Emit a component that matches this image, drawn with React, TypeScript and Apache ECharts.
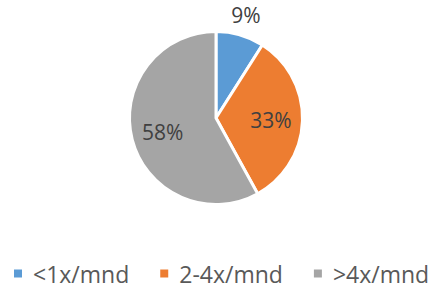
import React, { useEffect, useRef } from "react";
import * as echarts from "echarts";

const categories = ["<1x/mnd", "2-4x/mnd", ">4x/mnd"];
const values = [9, 33, 58];
const colors = ["#5B9BD5", "#ED7D31", "#A5A5A5"];
const outerLabelIdx = [0];
const innerLabelIdx = [1, 2];

export default function App() {
  const ref = useRef<HTMLDivElement>(null);
  useEffect(() => {
    if (!ref.current) return;
    const chart = echarts.init(ref.current, undefined, { renderer: "svg" });
    const font = "'Open Sans', 'Noto Sans', sans-serif";
    const labelStyle = { fontSize: 21, color: "#404040", fontFamily: font };
    const center = [216, 118];
    const overlay = (radius: number[], idx: number[]) => ({
      type: "pie",
      center,
      radius,
      silent: true,
      startAngle: 90,
      clockwise: true,
      avoidLabelOverlap: false,
      itemStyle: { color: "transparent", borderWidth: 0 },
      labelLine: { show: false },
      emphasis: { disabled: true },
      label: { position: "inside", formatter: "{c}%", ...labelStyle },
      data: categories.map((name, i) => ({
        name,
        value: values[i],
        label: { show: idx.includes(i) },
      })),
    });
    chart.setOption({
      animation: false,
      legend: {
        left: 12,
        top: 262,
        width: 430,
        padding: 0,
        icon: "rect",
        itemWidth: 10,
        itemHeight: 10,
        itemGap: 29,
        selectedMode: false,
        textStyle: {
          fontSize: 23,
          color: "#595959",
          fontFamily: font,
          padding: [0, 0, 0, 5],
        },
        data: categories.map((name, i) => ({ name, itemStyle: { color: colors[i] } })),
      },
      series: [
        {
          type: "pie",
          center,
          radius: [0, 86.5],
          startAngle: 90,
          clockwise: true,
          label: { show: false },
          labelLine: { show: false },
          emphasis: { disabled: true },
          itemStyle: { borderColor: "#ffffff", borderWidth: 3 },
          data: categories.map((name, i) => ({
            name,
            value: values[i],
            itemStyle: { color: colors[i] },
          })),
        },
        overlay([86, 122], outerLabelIdx),
        overlay([0, 104], innerLabelIdx),
      ],
    });
    return () => chart.dispose();
  }, []);
  return (
    <div
      ref={ref}
      style={{ position: "fixed", left: 0, top: 0, width: 433, height: 288, background: "#fff" }}
    />
  );
}
